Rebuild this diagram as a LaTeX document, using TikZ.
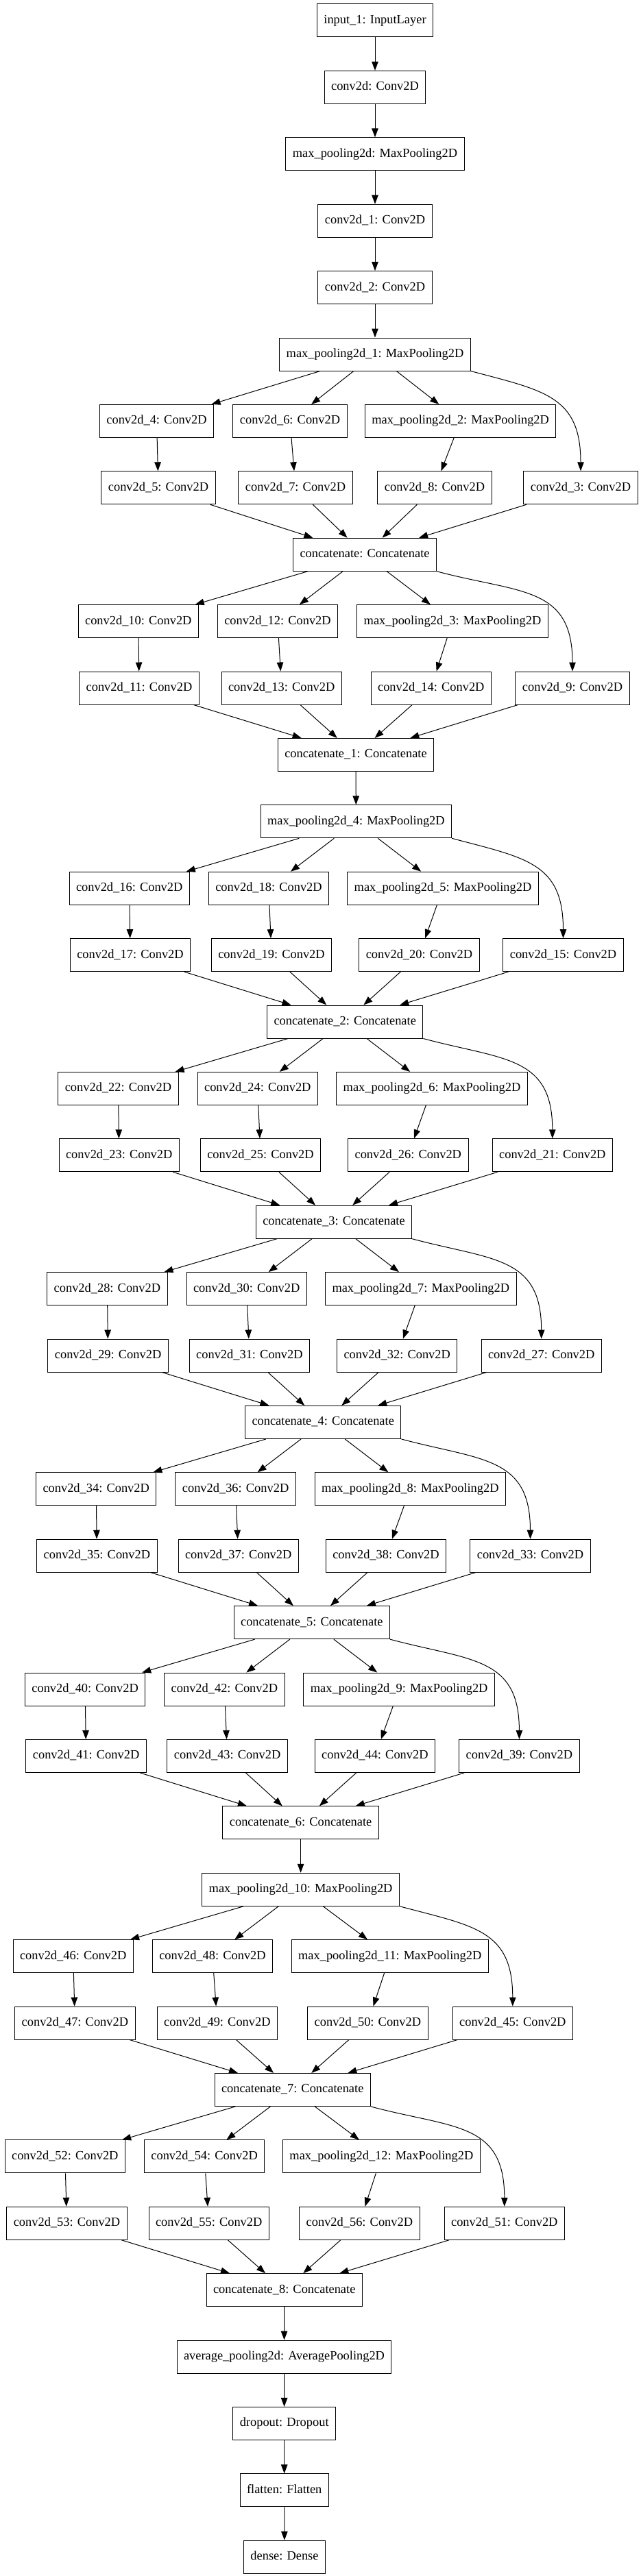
\documentclass[tikz,border=0pt]{standalone}
\usepackage{fontspec}
\setmainfont{Liberation Serif}
\usetikzlibrary{arrows.meta}

\begin{document}
\begin{tikzpicture}[x=1pt, y=-97.4pt,
    layer/.style={draw, line width=1pt, minimum height=48pt,
      inner xsep=10pt, inner ysep=0pt, text height=13pt, text depth=4pt,
      font=\fontsize{18.4pt}{22pt}\selectfont},
    edge/.style={line width=1pt, -{Triangle[length=13pt, width=9.5pt]}}]
  \useasboundingbox (0,-0.308) rectangle (934,38.285);

  % stem
  \node[layer] (inp) at (547,0) {input\_1: InputLayer};
  \node[layer] (cv)  at (547,1) {conv2d: Conv2D};
  \node[layer] (mp)  at (547,2) {max\_pooling2d: MaxPooling2D};
  \node[layer] (c1)  at (547,3) {conv2d\_1: Conv2D};
  \node[layer] (c2)  at (547,4) {conv2d\_2: Conv2D};
  \node[layer] (mp1) at (547,5) {max\_pooling2d\_1: MaxPooling2D};

  % block 1
  \node[layer] (c4)  at (228.5,6) {conv2d\_4: Conv2D};
  \node[layer] (c6)  at (423,6)   {conv2d\_6: Conv2D};
  \node[layer] (mp2) at (671.6,6) {max\_pooling2d\_2: MaxPooling2D};
  \node[layer] (c5)  at (231,7)   {conv2d\_5: Conv2D};
  \node[layer] (c7)  at (431,7)   {conv2d\_7: Conv2D};
  \node[layer] (c8)  at (634,7)   {conv2d\_8: Conv2D};
  \node[layer] (c3)  at (847,7)   {conv2d\_3: Conv2D};
  \node[layer] (cat) at (532,8)   {concatenate: Concatenate};

  % block 2
  \node[layer] (c10) at (201.8,9)  {conv2d\_10: Conv2D};
  \node[layer] (c12) at (405,9)    {conv2d\_12: Conv2D};
  \node[layer] (mp3) at (660,9)    {max\_pooling2d\_3: MaxPooling2D};
  \node[layer] (c11) at (203,10)   {conv2d\_11: Conv2D};
  \node[layer] (c13) at (410.7,10) {conv2d\_13: Conv2D};
  \node[layer] (c14) at (628.8,10) {conv2d\_14: Conv2D};
  \node[layer] (c9)  at (835,10)   {conv2d\_9: Conv2D};
  \node[layer] (cat1) at (519,11)  {concatenate\_1: Concatenate};
  \node[layer] (mp4) at (519.4,12) {max\_pooling2d\_4: MaxPooling2D};

  % block 3
  \node[layer] (c16) at (188.7,13) {conv2d\_16: Conv2D};
  \node[layer] (c18) at (392,13)   {conv2d\_18: Conv2D};
  \node[layer] (mp5) at (646,13)   {max\_pooling2d\_5: MaxPooling2D};
  \node[layer] (c17) at (190,14)   {conv2d\_17: Conv2D};
  \node[layer] (c19) at (396,14)   {conv2d\_19: Conv2D};
  \node[layer] (c20) at (611.5,14) {conv2d\_20: Conv2D};
  \node[layer] (c15) at (821.5,14) {conv2d\_15: Conv2D};
  \node[layer] (cat2) at (503.2,15) {concatenate\_2: Concatenate};

  % block 4
  \node[layer] (c22) at (172.5,16) {conv2d\_22: Conv2D};
  \node[layer] (c24) at (375.8,16) {conv2d\_24: Conv2D};
  \node[layer] (mp6) at (630,16)   {max\_pooling2d\_6: MaxPooling2D};
  \node[layer] (c23) at (173.7,17) {conv2d\_23: Conv2D};
  \node[layer] (c25) at (380,17)   {conv2d\_25: Conv2D};
  \node[layer] (c26) at (595.3,17) {conv2d\_26: Conv2D};
  \node[layer] (c21) at (805.8,17) {conv2d\_21: Conv2D};
  \node[layer] (cat3) at (487,18)  {concatenate\_3: Concatenate};

  % block 5
  \node[layer] (c28) at (156.4,19) {conv2d\_28: Conv2D};
  \node[layer] (c30) at (359.7,19) {conv2d\_30: Conv2D};
  \node[layer] (mp7) at (613.8,19) {max\_pooling2d\_7: MaxPooling2D};
  \node[layer] (c29) at (157.6,20) {conv2d\_29: Conv2D};
  \node[layer] (c31) at (363.9,20) {conv2d\_31: Conv2D};
  \node[layer] (c32) at (579.2,20) {conv2d\_32: Conv2D};
  \node[layer] (c27) at (789.7,20) {conv2d\_27: Conv2D};
  \node[layer] (cat4) at (471.2,21) {concatenate\_4: Concatenate};

  % block 6
  \node[layer] (c34) at (140.2,22) {conv2d\_34: Conv2D};
  \node[layer] (c36) at (343.6,22) {conv2d\_36: Conv2D};
  \node[layer] (mp8) at (598.3,22) {max\_pooling2d\_8: MaxPooling2D};
  \node[layer] (c35) at (141.4,23) {conv2d\_35: Conv2D};
  \node[layer] (c37) at (347.7,23) {conv2d\_37: Conv2D};
  \node[layer] (c38) at (563,23)   {conv2d\_38: Conv2D};
  \node[layer] (c33) at (773.5,23) {conv2d\_33: Conv2D};
  \node[layer] (cat5) at (454.8,24) {concatenate\_5: Concatenate};

  % block 7
  \node[layer] (c40) at (124.1,25) {conv2d\_40: Conv2D};
  \node[layer] (c42) at (327.4,25) {conv2d\_42: Conv2D};
  \node[layer] (mp9) at (582.2,25) {max\_pooling2d\_9: MaxPooling2D};
  \node[layer] (c41) at (125.6,26) {conv2d\_41: Conv2D};
  \node[layer] (c43) at (331.6,26) {conv2d\_43: Conv2D};
  \node[layer] (c44) at (546.9,26) {conv2d\_44: Conv2D};
  \node[layer] (c39) at (757.4,26) {conv2d\_39: Conv2D};
  \node[layer] (cat6) at (438.6,27) {concatenate\_6: Concatenate};
  \node[layer] (mp10) at (438.6,28) {max\_pooling2d\_10: MaxPooling2D};

  % block 8
  \node[layer] (c46) at (106.7,29) {conv2d\_46: Conv2D};
  \node[layer] (c48) at (310,29)   {conv2d\_48: Conv2D};
  \node[layer] (mp11) at (568.7,29) {max\_pooling2d\_11: MaxPooling2D};
  \node[layer] (c47) at (109.4,30) {conv2d\_47: Conv2D};
  \node[layer] (c49) at (316.9,30) {conv2d\_49: Conv2D};
  \node[layer] (c50) at (536.4,30) {conv2d\_50: Conv2D};
  \node[layer] (c45) at (747.8,30) {conv2d\_45: Conv2D};
  \node[layer] (cat7) at (426.7,31) {concatenate\_7: Concatenate};

  % block 9
  \node[layer] (c52) at (94.8,32)  {conv2d\_52: Conv2D};
  \node[layer] (c54) at (298.1,32) {conv2d\_54: Conv2D};
  \node[layer] (mp12) at (556.4,32) {max\_pooling2d\_12: MaxPooling2D};
  \node[layer] (c53) at (97.5,33)  {conv2d\_53: Conv2D};
  \node[layer] (c55) at (304.7,33) {conv2d\_55: Conv2D};
  \node[layer] (c56) at (524.4,33) {conv2d\_56: Conv2D};
  \node[layer] (c51) at (735.8,33) {conv2d\_51: Conv2D};
  \node[layer] (cat8) at (414.7,34) {concatenate\_8: Concatenate};

  % head
  \node[layer] (avg)   at (414.5,35) {average\_pooling2d: AveragePooling2D};
  \node[layer] (drop)  at (414.7,36) {dropout: Dropout};
  \node[layer] (flat)  at (414.7,37) {flatten: Flatten};
  \node[layer] (dense) at (415,38)   {dense: Dense};

  % chain edges
  \foreach \a/\b in {inp/cv, cv/mp, mp/c1, c1/c2, c2/mp1, cat1/mp4,
      cat6/mp10, cat8/avg, avg/drop, drop/flat, flat/dense}
    \draw[edge] (\a) -- (\b);

  % inception edges
  \foreach \p/\topa/\topb/\topm/\bota/\botb/\botm/\side/\c in {
      mp1/c4/c6/mp2/c5/c7/c8/c3/cat,
      cat/c10/c12/mp3/c11/c13/c14/c9/cat1,
      mp4/c16/c18/mp5/c17/c19/c20/c15/cat2,
      cat2/c22/c24/mp6/c23/c25/c26/c21/cat3,
      cat3/c28/c30/mp7/c29/c31/c32/c27/cat4,
      cat4/c34/c36/mp8/c35/c37/c38/c33/cat5,
      cat5/c40/c42/mp9/c41/c43/c44/c39/cat6,
      mp10/c46/c48/mp11/c47/c49/c50/c45/cat7,
      cat7/c52/c54/mp12/c53/c55/c56/c51/cat8} {
    \draw[edge] (\p) -- (\topa);
    \draw[edge] (\p) -- (\topb);
    \draw[edge] (\p) -- (\topm);
    \draw[edge] (\p.south east) to[out=-15, in=90, looseness=1.3] (\side.north);
    \draw[edge] (\topa) -- (\bota);
    \draw[edge] (\topb) -- (\botb);
    \draw[edge] (\topm) -- (\botm);
    \foreach \s in {\bota, \botb, \botm, \side}
      \draw[edge] (\s) -- (\c);
  }
\end{tikzpicture}
\end{document}
